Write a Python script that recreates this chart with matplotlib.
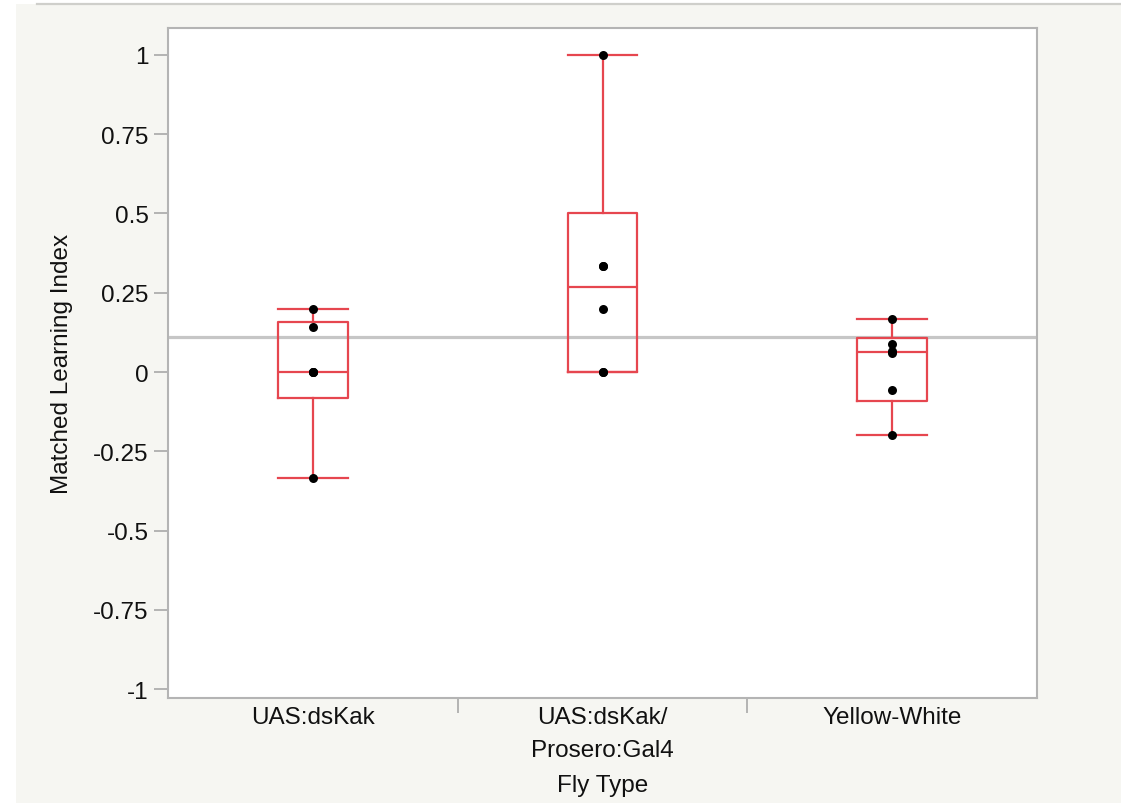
import numpy as np
import matplotlib
matplotlib.use("Agg")
import matplotlib.pyplot as plt
from matplotlib.patches import Rectangle
from matplotlib.lines import Line2D

# ---- data ----
categories = ["UAS:dsKak", "UAS:dsKak/\nProsero:Gal4", "Yellow-White"]
uas_dskak = [-1/3, 0.0, 0.0, 0.0, 1/7, 0.2]
uas_dskak_prosero = [0.0, 0.0, 0.2, 1/3, 1/3, 1.0]
yellow_white = [-0.2, -1/18, 1/17, 1/15, 0.087, 1/6]
groups = [uas_dskak, uas_dskak_prosero, yellow_white]
ytick_vals = [-1, -0.75, -0.5, -0.25, 0, 0.25, 0.5, 0.75, 1]
ytick_labels = ["-1", "-0.75", "-0.5", "-0.25", "0", "0.25", "0.5", "0.75", "1"]

W, H = 1121, 804
fig = plt.figure(figsize=(W / 100, H / 100), dpi=100, facecolor="white")
plt.rcParams["font.family"] = ["Liberation Sans", "DejaVu Sans"]

# panel background and top rule
fig.patches.append(Rectangle((16 / W, 0), 1 - 16 / W, 1 - 5 / H,
                             transform=fig.transFigure, facecolor="#f6f6f2",
                             edgecolor="none", zorder=-10))
fig.lines.append(Line2D([37 / W, 1], [1 - 5 / H, 1 - 5 / H], transform=fig.transFigure,
                        color="#cfcfcb", lw=1.6, zorder=-9))

ax = fig.add_axes([168 / W, (H - 699) / H, (1037 - 168) / W, (699 - 29) / H])
ax.set_facecolor("white")

red = "#e6464f"
stats = []
for g in groups:
    a = np.sort(np.asarray(g, dtype=float))
    q1, med, q3 = np.quantile(a, [0.25, 0.5, 0.75], method="weibull")
    iqr = q3 - q1
    lo = a[a >= q1 - 1.5 * iqr].min()
    hi = a[a <= q3 + 1.5 * iqr].max()
    stats.append(dict(med=med, q1=q1, q3=q3, whislo=lo, whishi=hi, fliers=[]))

positions = [1, 2, 3]
bw = 0.24
lp = dict(color=red, lw=1.6)
ax.bxp(stats, positions=positions, widths=bw, capwidths=bw, showfliers=False,
       boxprops=lp, medianprops=lp, whiskerprops=lp, capprops=lp, zorder=3)

# grand mean line
grand = np.mean(np.concatenate([np.asarray(g) for g in groups]))
ax.axhline(grand, color="#c6c6c6", lw=2.3, zorder=1)

for p, g in zip(positions, groups):
    ax.scatter([p] * len(g), g, s=42, color="black", zorder=4, linewidths=0)

ax.set_xlim(0.5, 3.5)
ax.set_ylim(-1.028, 1.085)

for s in ax.spines.values():
    s.set_color("#b4b4b4")
    s.set_linewidth(1.5)

fs = 17.5
ax.set_yticks(ytick_vals)
ax.set_yticklabels(ytick_labels)
ax.tick_params(axis="y", length=10, width=1.2, color="#a8a8a8", pad=4,
               labelsize=fs, labelcolor="#111111")

ax.set_xticks([1.5, 2.5])
ax.set_xticklabels([])
ax.set_xticks(positions, minor=True)
ax.set_xticklabels(categories, minor=True, linespacing=1.6)
ax.tick_params(axis="x", which="major", length=11, width=1.2, color="#a8a8a8")
ax.tick_params(axis="x", which="minor", length=0, pad=6, labelsize=fs,
               labelcolor="#111111")

ax.set_ylabel("Matched Learning Index", fontsize=fs, color="#111111")
ax.yaxis.set_label_coords((62 - 168) / (1037 - 168), 0.5)
ax.yaxis.label.set_va("center")
ax.set_xlabel("Fly Type", fontsize=fs, color="#111111")
ax.xaxis.set_label_coords(0.5, -(786 - 699) / (699 - 29))
ax.xaxis.label.set_va("center")

fig.savefig("out.png", dpi=100, facecolor=fig.get_facecolor())
